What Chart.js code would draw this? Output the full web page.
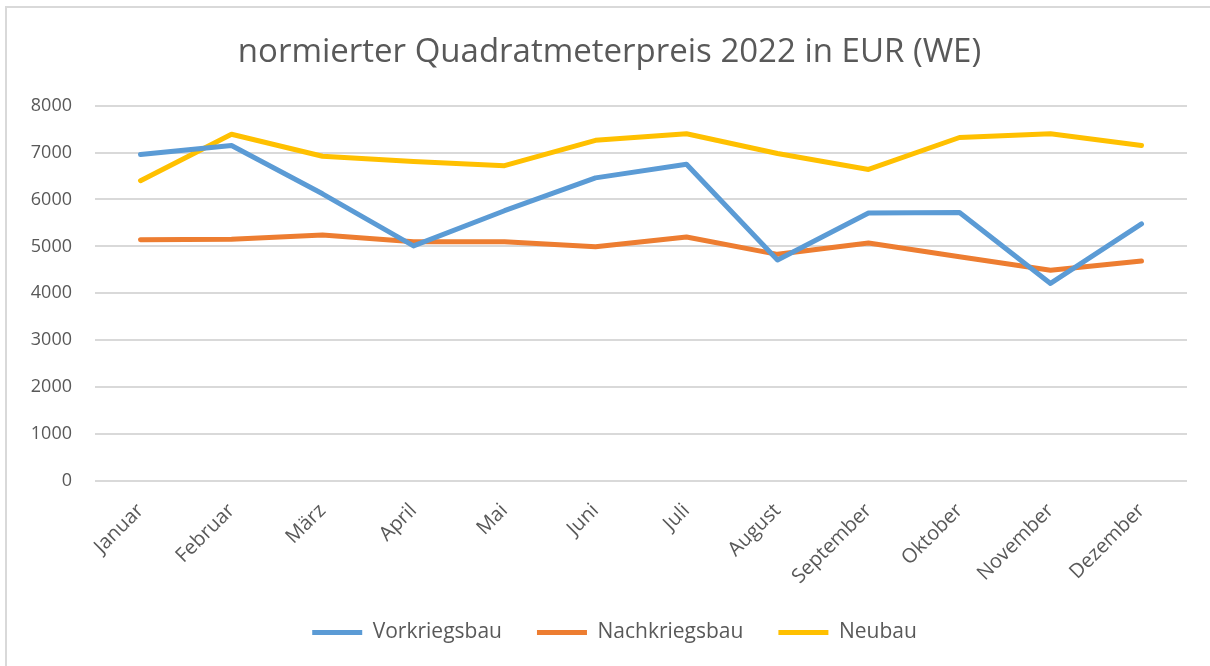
<!DOCTYPE html>
<html>
<head>
<meta charset="utf-8">
<script src="https://cdn.jsdelivr.net/npm/chart.js@4.4.0/dist/chart.umd.min.js"></script>
<style>
  html, body { margin: 0; padding: 0; background: #fff; }
  #frame { position: absolute; left: 5px; top: 6px; right: -10px; bottom: -10px;
           border-top: 2px solid #d9d9d9; border-left: 2px solid #d9d9d9; }
  #wrap { position: absolute; left: 0; top: 0; width: 1210px; height: 666px; }
</style>
</head>
<body>
<div id="frame"></div>
<div id="wrap"><canvas id="chart"></canvas></div>
<script>
// data
var months = ["Januar", "Februar", "März", "April", "Mai", "Juni",
    "Juli", "August", "September", "Oktober", "November", "Dezember"];
var vorkriegsbau = [6960, 7150, 6120, 5010, 5760, 6460, 6750, 4710, 5710, 5720, 4210, 5480];
var nachkriegsbau = [5140, 5150, 5240, 5100, 5100, 4990, 5200, 4830, 5070, 4780, 4490, 4690];
var neubau = [6400, 7390, 6920, 6810, 6720, 7260, 7400, 6980, 6640, 7320, 7400, 7150];
var yMax = 8000, yStep = 1000;

var textColor = "#595959";
var gridColor = "#d9d9d9";

function series(label, values, color) {
    return {
        label: label,
        data: values,
        borderColor: color,
        backgroundColor: color,
        borderWidth: 5,
        borderCapStyle: "round",
        borderJoinStyle: "round",
        pointRadius: 0,
        pointHoverRadius: 0,
        pointStyle: "line",
        tension: 0,
    };
}

// title and legend sit a bit right of the plot centre in the original
var centerShift = {
    id: "centerShift",
    afterLayout: function (chart) {
        if (chart.titleBlock) {
            chart.titleBlock.left += 16;
            chart.titleBlock.right += 16;
        }
        if (chart.legend) {
            chart.legend.left += 21;
            chart.legend.right += 21;
        }
    },
};

var ctx = document.getElementById("chart").getContext("2d");
new Chart(ctx, {
    type: "line",
    data: {
        labels: months,
        datasets: [
            series("Vorkriegsbau", vorkriegsbau, "#5b9bd5"),
            series("Nachkriegsbau", nachkriegsbau, "#ed7d31"),
            series("Neubau", neubau, "#ffc000"),
        ],
    },
    plugins: [centerShift],
    options: {
        responsive: true,
        maintainAspectRatio: false,
        animation: false,
        layout: { padding: { left: 0, right: 23, top: 0, bottom: 13 } },
        plugins: {
            title: {
                display: true,
                text: "normierter Quadratmeterpreis 2022 in EUR (WE)",
                color: textColor,
                font: { family: "Open Sans", size: 33, weight: "normal", lineHeight: 1.2 },
                padding: { top: 33, bottom: 33 },
            },
            legend: {
                position: "bottom",
                labels: {
                    usePointStyle: true,
                    pointStyleWidth: 50,
                    color: textColor,
                    font: { family: "Open Sans", size: 21 },
                    padding: 35,
                },
            },
            tooltip: { enabled: false },
        },
        scales: {
            x: {
                offset: true,
                grid: { display: false, drawTicks: false },
                border: { display: false },
                ticks: {
                    color: textColor,
                    font: { family: "Open Sans", size: 20 },
                    minRotation: 45,
                    maxRotation: 45,
                    padding: 18,
                    autoSkip: false,
                },
                afterFit: function (scale) { scale.height = 106; },
            },
            y: {
                min: 0,
                max: yMax,
                grid: { color: gridColor, lineWidth: 2, drawTicks: false },
                border: { display: false },
                ticks: {
                    stepSize: yStep,
                    color: textColor,
                    font: { family: "Open Sans", size: 18 },
                    padding: 23,
                    callback: function (v) { return String(v); },
                },
                afterFit: function (scale) { scale.width = 95; },
            },
        },
    },
});
</script>
</body>
</html>
